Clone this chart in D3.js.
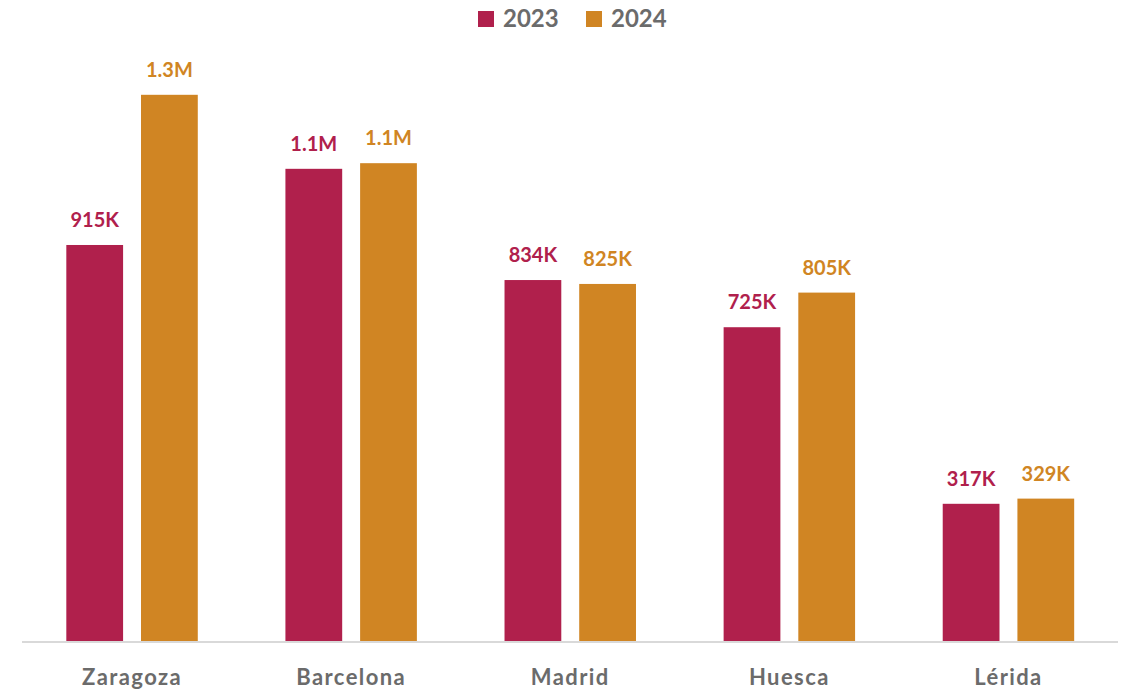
<!DOCTYPE html>
<html>
<head>
<meta charset="utf-8">
<script src="https://cdn.jsdelivr.net/npm/d3@7"></script>
<style>
  html, body { margin: 0; padding: 0; background: #fff; }
  svg { display: block; }
  text { font-family: Lato, "Open Sans", sans-serif; font-weight: 700; }
</style>
</head>
<body>
<svg id="chart" width="1127" height="691"></svg>
<script>
const categories = ["Zaragoza", "Barcelona", "Madrid", "Huesca", "Lérida"];
const seriesNames = ["2023", "2024"];
const values2023 = [915000, 1091000, 834000, 725000, 317000];
const values2024 = [1262000, 1104000, 825000, 805000, 329000];
const seriesColors = ["#B0204C", "#D08523"];

const svg = d3.select("#chart");
const baseY = 641;

const x0 = d3.scaleBand().domain(categories).range([22.5, 1118]).paddingInner(0.4).paddingOuter(0.2);
const x1 = d3.scaleBand().domain(seriesNames).range([0, x0.bandwidth()]).paddingInner(0.24);
const y = d3.scaleLinear().domain([0, 1400000]).range([baseY, baseY - 1400 * 0.4328]);
const color = d3.scaleOrdinal().domain(seriesNames).range(seriesColors);

const rows = categories.map((c, i) => ({ cat: c, vals: [
  { s: "2023", v: values2023[i] },
  { s: "2024", v: values2024[i] }
]}));

const fmt = v => v >= 1e6 ? (v / 1e6).toFixed(1) + "M" : Math.round(v / 1000) + "K";

const groups = svg.selectAll("g.grp").data(rows).join("g")
  .attr("class", "grp")
  .attr("transform", d => `translate(${x0(d.cat)},0)`);

groups.selectAll("rect").data(d => d.vals).join("rect")
  .attr("x", d => x1(d.s))
  .attr("width", x1.bandwidth())
  .attr("y", d => y(d.v))
  .attr("height", d => y(0) - y(d.v))
  .attr("fill", d => color(d.s));

groups.selectAll("text.lbl").data(d => d.vals).join("text")
  .attr("class", "lbl")
  .attr("x", d => x1(d.s) + x1.bandwidth() / 2)
  .attr("y", d => y(d.v) - 18)
  .attr("text-anchor", "middle")
  .attr("font-size", 20)
  .attr("fill", d => color(d.s))
  .text(d => fmt(d.v));

// x axis
const axis = svg.append("g")
  .attr("transform", `translate(0,${baseY})`)
  .call(d3.axisBottom(x0).tickSize(0).tickPadding(28));
axis.select(".domain").attr("stroke", "#d9d9d9").attr("stroke-width", 2)
  .attr("d", "M22,1H1118");
axis.selectAll("text")
  .attr("font-size", 22)
  .attr("fill", "#6b6b6b")
  .attr("letter-spacing", "1.4px")
  .attr("font-family", "Lato, 'Open Sans', sans-serif")
  .attr("font-weight", 700);

// legend
const legendX = [478, 586];
const legend = svg.append("g");
seriesNames.forEach((s, i) => {
  legend.append("rect").attr("x", legendX[i]).attr("y", 11).attr("width", 16).attr("height", 16).attr("fill", color(s));
  legend.append("text").attr("x", legendX[i] + 25).attr("y", 27)
    .attr("font-size", 24).attr("fill", "#6b6b6b").text(s);
});
</script>
</body>
</html>
